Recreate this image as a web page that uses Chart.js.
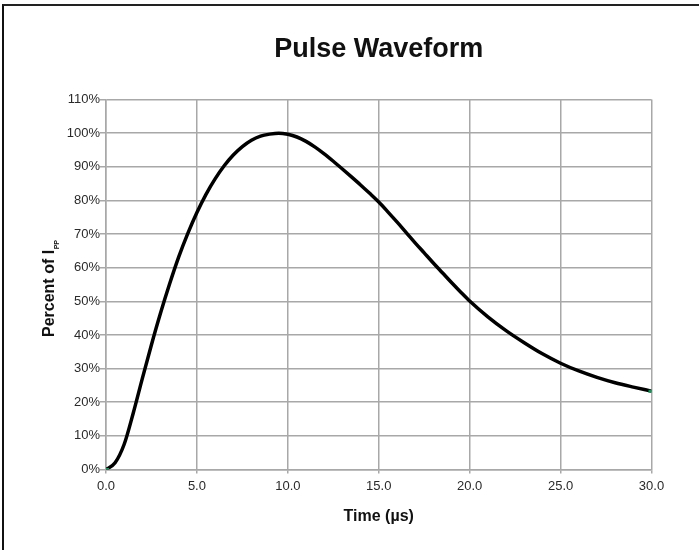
<!DOCTYPE html>
<html>
<head>
<meta charset="utf-8">
<title>Pulse Waveform</title>
<script src="https://cdn.jsdelivr.net/npm/chart.js@4.4.1/dist/chart.umd.min.js"></script>
<style>
  html, body { margin: 0; padding: 0; background: #fff; overflow: hidden; }
  .wrap { position: relative; width: 699px; height: 550px; overflow: hidden; }
  .frame {
    position: absolute; left: 2px; top: 4px; width: 900px; height: 900px;
    border-left: 2px solid #111; border-top: 2px solid #222;
  }
  canvas { position: absolute; left: 0; top: 0; }
</style>
</head>
<body>
<div class="wrap">
  <div class="frame"></div>
  <canvas id="chart" width="699" height="550"></canvas>
</div>
<script>
// values
const chartTitle = "Pulse Waveform";
const xTitle = "Time (\u00b5s)";
const yTitle = "Percent of I";
const ySubscript = "PP";

const timeUs = [0, 0.5, 1, 1.5, 2, 2.5, 3, 3.5, 4, 4.5, 5, 5.5, 6, 6.5, 7, 7.5, 8, 8.5, 9, 9.5,
  10, 10.5, 11, 11.5, 12, 12.5, 13, 13.5, 14, 14.5, 15, 15.5, 16, 16.5, 17, 17.5, 18, 18.5, 19, 19.5,
  20, 21, 22, 23, 24, 25, 26, 27, 28, 29, 30];
const percentIpp = [0, 2, 7.5, 16.8, 27.1, 37.1, 46.5, 55.2, 63.2, 70.2, 76.4, 81.8, 86.4, 90.3, 93.5, 96, 97.9, 99.1, 99.7, 100,
  99.65, 98.85, 97.55, 95.85, 93.85, 91.65, 89.35, 87, 84.6, 82.1, 79.5, 76.6, 73.6, 70.5, 67.4, 64.4, 61.4, 58.5, 55.6, 52.8,
  50.1, 45.4, 41.3, 37.7, 34.4, 31.6, 29.3, 27.4, 25.8, 24.5, 23.3];

const xTicks = [0, 5, 10, 15, 20, 25, 30];
const yTicks = [0, 10, 20, 30, 40, 50, 60, 70, 80, 90, 100, 110];

const fontFamily = '"Liberation Sans", Arial, sans-serif';
Chart.defaults.font.family = fontFamily;

// title and axis titles (y title needs a subscript, so draw them by hand)
const titlesPlugin = {
  id: "titles",
  afterDraw(chart) {
    const { ctx, chartArea } = chart;
    const midX = (chartArea.left + chartArea.right) / 2;
    ctx.save();
    ctx.fillStyle = "#111";
    ctx.textBaseline = "alphabetic";

    ctx.font = "bold 27px " + fontFamily;
    ctx.textAlign = "center";
    ctx.fillText(chartTitle, midX, 57);

    ctx.font = "bold 16px " + fontFamily;
    ctx.fillText(xTitle, midX, 521);

    ctx.textAlign = "left";
    ctx.translate(54, 337);
    ctx.rotate(-Math.PI / 2);
    ctx.fillText(yTitle, 0, 0);
    const w = ctx.measureText(yTitle).width;
    ctx.font = "bold 7px " + fontFamily;
    ctx.fillText(ySubscript, w + 0.5, 4.5);
    ctx.restore();
  },
};

const points = timeUs.map((t, i) => ({ x: t, y: percentIpp[i] }));
const last = points.length - 1;

new Chart(document.getElementById("chart"), {
  type: "line",
  data: {
    datasets: [
      {
        data: points,
        borderColor: "#000",
        borderWidth: 3.5,
        cubicInterpolationMode: "monotone",
        fill: false,
        pointStyle: "line",
        pointRadius: (c) => (c.dataIndex === 0 || c.dataIndex === last ? 3 : 0),
        pointBorderColor: "#17945a",
        pointBorderWidth: 3,
        pointHoverRadius: 0,
      },
    ],
  },
  options: {
    responsive: false,
    animation: false,
    devicePixelRatio: 1,
    layout: { padding: { left: 0, right: 47.5, top: 99.5, bottom: 50.5 } },
    plugins: {
      legend: { display: false },
      tooltip: { enabled: false },
      title: { display: false },
    },
    scales: {
      x: {
        type: "linear",
        min: 0,
        max: 30,
        afterBuildTicks: (scale) => {
          scale.ticks = xTicks.map((v) => ({ value: v }));
        },
        afterFit: (scale) => {
          scale.height = 30;
        },
        grid: { color: "#a8a8a8", lineWidth: 1.5, tickLength: 4 },
        border: { color: "#a8a8a8", width: 1.5 },
        ticks: {
          color: "#2a2a2a",
          font: { size: 13 },
          padding: 5,
          maxRotation: 0,
          callback: (v) => Number(v).toFixed(1),
        },
      },
      y: {
        type: "linear",
        min: 0,
        max: 110,
        afterBuildTicks: (scale) => {
          scale.ticks = yTicks.map((v) => ({ value: v }));
        },
        afterFit: (scale) => {
          scale.width = 106;
        },
        grid: { color: "#a8a8a8", lineWidth: 1.5, tickLength: 6 },
        border: { color: "#a8a8a8", width: 1.5 },
        ticks: {
          color: "#2a2a2a",
          font: { size: 13 },
          padding: 0,
          callback: (v) => v + "%",
        },
      },
    },
  },
  plugins: [titlesPlugin],
});
</script>
</body>
</html>
